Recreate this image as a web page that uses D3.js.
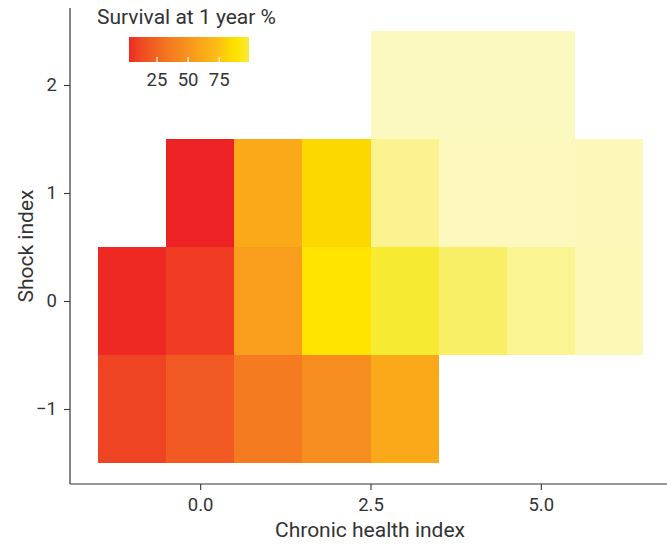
<!DOCTYPE html>
<html>
<head>
<meta charset="utf-8">
<script src="https://cdn.jsdelivr.net/npm/d3@7"></script>
<style>
  html, body { margin: 0; padding: 0; background: #fff; }
  svg text { font-family: Roboto, "Liberation Sans", sans-serif; fill: #333; }
</style>
</head>
<body>
<svg id="chart" width="667" height="545"></svg>
<script>
// One grid cell per (chronic health index, shock index) bin
const chronicIdx = [0, 1, 2, 3, 4, 5, 6,   -1, 0, 1, 2, 3, 4, 5, 6,   -1, 0, 1, 2, 3,   3, 4, 5];
const shockIdx   = [1, 1, 1, 1, 1, 1, 1,    0, 0, 0, 0, 0, 0, 0, 0,   -1, -1, -1, -1, -1,  2, 2, 2];
// Survival at 1 year (%) per cell
const survival   = [1, 62, 83, 97, 98, 98, 98,   3, 8, 55, 90, 97, 97, 98, 98,   10, 20, 35, 47, 62,   98, 98, 98];
// Cell opacity: share of patients behind each estimate (faint = few patients)
const support    = [1, 1, 1, 0.55, 0.33, 0.33, 0.35,   1, 1, 1, 1, 1, 0.75, 0.55, 0.37,   1, 1, 1, 1, 1,   0.32, 0.32, 0.32];

const xTicks = [0, 2.5, 5];
const yTicks = [-1, 0, 1, 2];
const legendTicks = [25, 50, 75];
const legendLimits = [2.5, 99];

// Colour ramp for survival
const colourStops = [0, 10, 20, 35, 47, 60, 75, 83, 90, 98];
const colourRange = ["#ED1E24", "#EF4423", "#F15A22", "#F47B20", "#F68E1F", "#FAA61A",
                     "#FCC014", "#FDD800", "#FFE400", "#F6EB3A"];

const svg = d3.select("#chart");
const W = 667, H = 545;
const axisLeftX = 70, axisBottomY = 484, axisTopY = 8;

const x = d3.scaleLinear().domain([-1.5, 6.5]).range([98, 643]);
const y = d3.scaleLinear().domain([-1.5, 2.5]).range([463, 31]);
const colour = d3.scaleLinear().domain(colourStops).range(colourRange).clamp(true);

const cells = chronicIdx.map((c, i) => ({ c, s: shockIdx[i], v: survival[i], a: support[i] }));

// Tiles
svg.append("g")
  .selectAll("rect")
  .data(cells)
  .join("rect")
  .attr("x", d => x(d.c - 0.5))
  .attr("y", d => y(d.s + 0.5))
  .attr("width", d => x(d.c + 0.5) - x(d.c - 0.5))
  .attr("height", d => y(d.s - 0.5) - y(d.s + 0.5))
  .attr("fill", d => colour(d.v))
  .attr("fill-opacity", d => d.a)
  .attr("shape-rendering", "crispEdges");

// Axes
const xAxis = svg.append("g")
  .attr("transform", `translate(0,${axisBottomY})`)
  .call(d3.axisBottom(x).tickValues(xTicks).tickFormat(d3.format(".1f"))
        .tickSize(6).tickPadding(8).tickSizeOuter(0));
const yAxis = svg.append("g")
  .attr("transform", `translate(${axisLeftX},0)`)
  .call(d3.axisLeft(y).tickValues(yTicks).tickFormat(d3.format("d"))
        .tickSize(6).tickPadding(7).tickSizeOuter(0));

[xAxis, yAxis].forEach(g => {
  g.selectAll(".tick line").attr("stroke", "#333").attr("stroke-width", 1.1);
  g.selectAll(".tick text").attr("font-size", 18.5).attr("fill", "#333")
    .style("font-family", "Roboto, sans-serif");
});
// Axis lines span the whole panel
xAxis.select(".domain").attr("d", `M${axisLeftX},0H${W}`)
  .attr("stroke", "#333").attr("stroke-width", 1.2);
yAxis.select(".domain").attr("d", `M0,${axisTopY}V${axisBottomY}`)
  .attr("stroke", "#333").attr("stroke-width", 1.2);

// Axis titles
svg.append("text")
  .attr("x", 370)
  .attr("y", 537)
  .attr("text-anchor", "middle")
  .attr("font-size", 21)
  .text("Chronic health index");

svg.append("text")
  .attr("transform", `translate(33,${(axisTopY + axisBottomY) / 2}) rotate(-90)`)
  .attr("text-anchor", "middle")
  .attr("font-size", 21)
  .text("Shock index");

// Colour legend
const legendX = d3.scaleLinear().domain(legendLimits).range([129, 249]);
const defs = svg.append("defs");
const grad = defs.append("linearGradient").attr("id", "survGrad")
  .attr("x1", "0%").attr("x2", "100%").attr("y1", "0%").attr("y2", "0%");
const [lo, hi] = legendX.domain();
d3.range(0, 1.0001, 0.05).forEach(t => {
  grad.append("stop").attr("offset", `${t * 100}%`).attr("stop-color", colour(lo + t * (hi - lo)));
});

svg.append("text")
  .attr("x", 97)
  .attr("y", 24)
  .attr("font-size", 21)
  .text("Survival at 1 year %");

svg.append("rect")
  .attr("x", legendX.range()[0])
  .attr("y", 37)
  .attr("width", legendX.range()[1] - legendX.range()[0])
  .attr("height", 25)
  .attr("fill", "url(#survGrad)");

const lg = svg.append("g");
lg.selectAll("line")
  .data(legendTicks)
  .join("line")
  .attr("x1", d => legendX(d)).attr("x2", d => legendX(d))
  .attr("y1", 57).attr("y2", 62)
  .attr("stroke", "#fff").attr("stroke-width", 1.2);
lg.selectAll("text")
  .data(legendTicks)
  .join("text")
  .attr("x", d => legendX(d))
  .attr("y", 86)
  .attr("text-anchor", "middle")
  .attr("font-size", 18.5)
  .text(d => d);
</script>
</body>
</html>
